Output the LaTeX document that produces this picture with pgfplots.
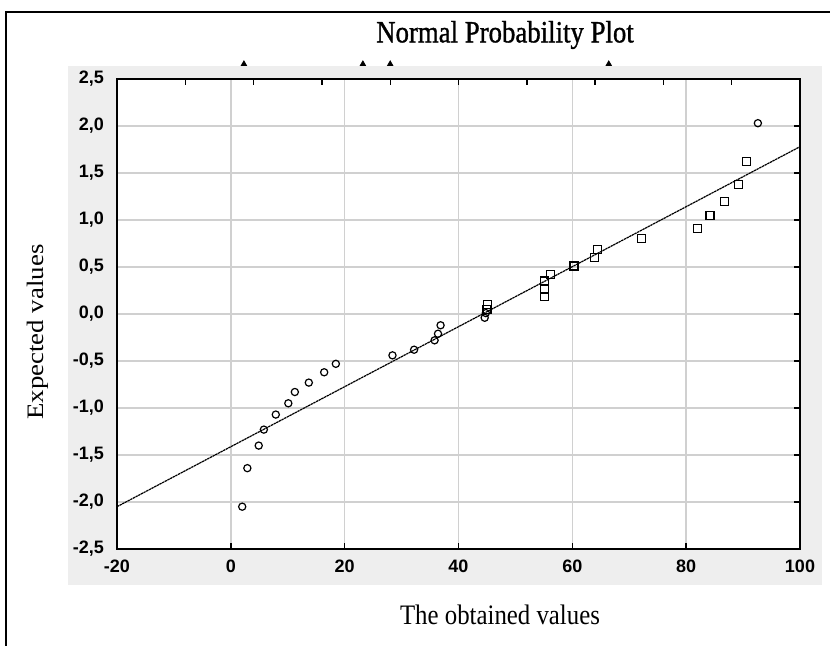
\documentclass[border=0pt]{standalone}
\usepackage{fontspec}
\setmainfont{Liberation Serif}
\newfontfamily\arial{Liberation Sans}
\usepackage{pgfplots}
\pgfplotsset{compat=1.18}
\definecolor{panel}{RGB}{238,238,238}
\definecolor{gridc}{RGB}{208,208,208}

\pgfplotstableread{
x y
2.0 -2.05
2.9 -1.64
4.9 -1.40
5.8 -1.23
7.9 -1.07
10.1 -0.95
11.25 -0.83
13.7 -0.73
16.4 -0.62
18.45 -0.53
28.4 -0.44
32.2 -0.38
35.8 -0.28
36.4 -0.21
36.85 -0.12
44.6 -0.04
44.8 0.01
92.6 2.03
}\circles

\pgfplotstableread{
x y
45.0 0.05
45.05 0.10
55.1 0.19
55.1 0.26
55.1 0.35
56.1 0.42
60.3 0.51
63.9 0.60
64.4 0.69
72.1 0.80
82.0 0.91
84.2 1.05
86.8 1.20
89.2 1.38
90.6 1.62
}\squares

\begin{document}
\begin{tikzpicture}[x=1pt,y=1pt]
\useasboundingbox (0,0) rectangle (415,323);
\fill[panel] (34,30.5) rectangle (411,290);
\draw[line width=0.8pt] (3,-3) -- (3,317) -- (420,317);
\node[xscale=0.87, font=\fontsize{15.4}{18}\selectfont, text=black, draw=none] at (252.5,305.5) {\addfontfeature{FakeBold=1.2}Normal Probability Plot};
\node[rotate=90, yscale=0.88, font=\fontsize{13.4}{16}\selectfont] at (19,157) {Expected values};
\node[xscale=0.88, font=\fontsize{14.1}{17}\selectfont] at (250,15.5) {The obtained values};

\begin{axis}[
  at={(58.5pt,48.5pt)}, anchor=south west,
  scale only axis, width=341.5pt, height=235pt,
  xmin=-20, xmax=100, ymin=-2.5, ymax=2.5,
  xtick={-20,0,...,100},
  ytick={-2.5,-2,...,2.5},
  xtick pos=lower, ytick pos=right, yticklabel pos=left,
  tick align=inside,
  major tick length=3pt,
  tick style={black, line width=0.7pt},
  grid=major,
  major grid style={gridc, line width=0.8pt},
  axis line style={black, line width=1pt},
  axis background/.style={fill=white},
  clip=false,
  tick label style={font=\arial\bfseries\fontsize{9}{10}\selectfont, /pgf/number format/assume math mode=true},
  yticklabel style={xshift=-3pt, /pgf/number format/.cd, fixed, fixed zerofill, precision=1, use comma},
  xticklabel style={yshift=-2pt, /pgf/number format/.cd, fixed, precision=0},
]
\addplot[black, line width=0.6pt, dash pattern=on 1.2pt off 0.3pt] coordinates {(-20,-2.05) (100,1.78)};
\addplot[only marks, mark=o, mark size=1.8pt, mark options={black, line width=0.6pt}] table {\circles};
\addplot[only marks, mark=square, mark size=2pt, mark options={black, line width=0.6pt}] table {\squares};
\addplot[only marks, mark=triangle*, mark size=1.5pt, black] coordinates {(2.3,2.66) (23.2,2.66) (28.0,2.66) (66.4,2.66)};
\end{axis}

\begin{axis}[
  at={(58.5pt,48.5pt)}, anchor=south west,
  scale only axis, width=341.5pt, height=235pt,
  xmin=-20, xmax=100, ymin=-2.5, ymax=2.5,
  axis line style={draw=none},
  xtick={-8,4,...,88}, xticklabels={}, xtick pos=upper,
  ytick=\empty,
  tick align=inside,
  major tick length=3pt,
  tick style={black, line width=0.7pt},
]
\addplot[draw=none, forget plot] coordinates {(0,0)};
\end{axis}
\end{tikzpicture}
\end{document}
